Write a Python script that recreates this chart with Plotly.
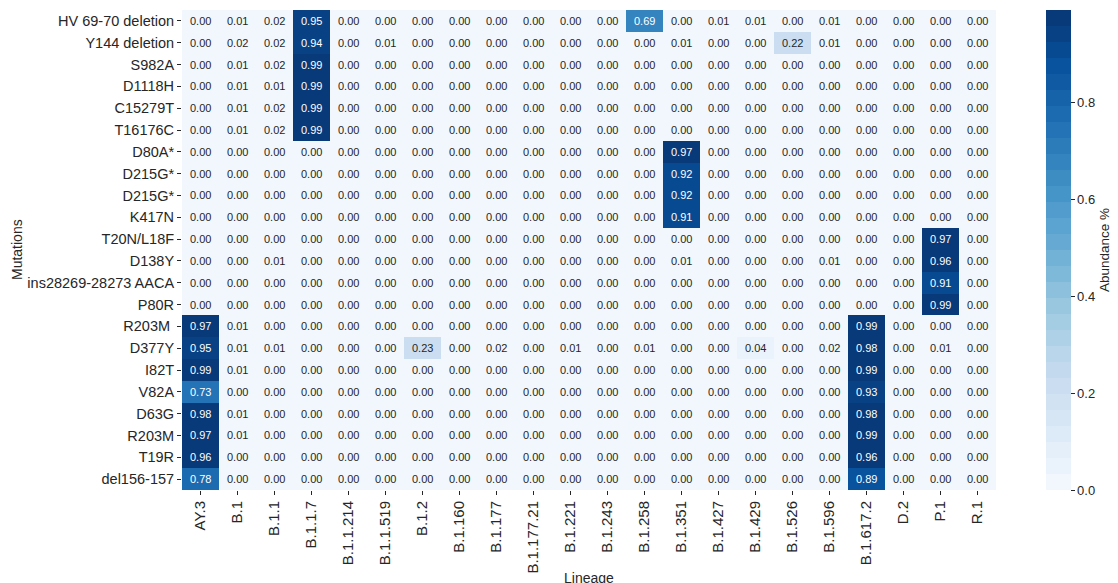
import plotly.graph_objects as go

lineages = ["AY.3", "B.1", "B.1.1", "B.1.1.7", "B.1.1.214", "B.1.1.519", "B.1.2", "B.1.160",
            "B.1.177", "B.1.177.21", "B.1.221", "B.1.243", "B.1.258", "B.1.351", "B.1.427",
            "B.1.429", "B.1.526", "B.1.596", "B.1.617.2", "D.2", "P.1", "R.1"]

mutations = ["HV 69-70 deletion", "Y144 deletion", "S982A", "D1118H", "C15279T", "T16176C",
             "D80A*", "D215G*", "D215G*", "K417N", "T20N/L18F", "D138Y", "ins28269-28273 AACA",
             "P80R", "R203M ", "D377Y", "I82T", "V82A", "D63G", "R203M", "T19R", "del156-157"]

abundance = [
    [0.00, 0.01, 0.02, 0.95, 0.00, 0.00, 0.00, 0.00, 0.00, 0.00, 0.00, 0.00, 0.69, 0.00, 0.01, 0.01, 0.00, 0.01, 0.00, 0.00, 0.00, 0.00],
    [0.00, 0.02, 0.02, 0.94, 0.00, 0.01, 0.00, 0.00, 0.00, 0.00, 0.00, 0.00, 0.00, 0.01, 0.00, 0.00, 0.22, 0.01, 0.00, 0.00, 0.00, 0.00],
    [0.00, 0.01, 0.02, 0.99, 0.00, 0.00, 0.00, 0.00, 0.00, 0.00, 0.00, 0.00, 0.00, 0.00, 0.00, 0.00, 0.00, 0.00, 0.00, 0.00, 0.00, 0.00],
    [0.00, 0.01, 0.01, 0.99, 0.00, 0.00, 0.00, 0.00, 0.00, 0.00, 0.00, 0.00, 0.00, 0.00, 0.00, 0.00, 0.00, 0.00, 0.00, 0.00, 0.00, 0.00],
    [0.00, 0.01, 0.02, 0.99, 0.00, 0.00, 0.00, 0.00, 0.00, 0.00, 0.00, 0.00, 0.00, 0.00, 0.00, 0.00, 0.00, 0.00, 0.00, 0.00, 0.00, 0.00],
    [0.00, 0.01, 0.02, 0.99, 0.00, 0.00, 0.00, 0.00, 0.00, 0.00, 0.00, 0.00, 0.00, 0.00, 0.00, 0.00, 0.00, 0.00, 0.00, 0.00, 0.00, 0.00],
    [0.00, 0.00, 0.00, 0.00, 0.00, 0.00, 0.00, 0.00, 0.00, 0.00, 0.00, 0.00, 0.00, 0.97, 0.00, 0.00, 0.00, 0.00, 0.00, 0.00, 0.00, 0.00],
    [0.00, 0.00, 0.00, 0.00, 0.00, 0.00, 0.00, 0.00, 0.00, 0.00, 0.00, 0.00, 0.00, 0.92, 0.00, 0.00, 0.00, 0.00, 0.00, 0.00, 0.00, 0.00],
    [0.00, 0.00, 0.00, 0.00, 0.00, 0.00, 0.00, 0.00, 0.00, 0.00, 0.00, 0.00, 0.00, 0.92, 0.00, 0.00, 0.00, 0.00, 0.00, 0.00, 0.00, 0.00],
    [0.00, 0.00, 0.00, 0.00, 0.00, 0.00, 0.00, 0.00, 0.00, 0.00, 0.00, 0.00, 0.00, 0.91, 0.00, 0.00, 0.00, 0.00, 0.00, 0.00, 0.00, 0.00],
    [0.00, 0.00, 0.00, 0.00, 0.00, 0.00, 0.00, 0.00, 0.00, 0.00, 0.00, 0.00, 0.00, 0.00, 0.00, 0.00, 0.00, 0.00, 0.00, 0.00, 0.97, 0.00],
    [0.00, 0.00, 0.01, 0.00, 0.00, 0.00, 0.00, 0.00, 0.00, 0.00, 0.00, 0.00, 0.00, 0.01, 0.00, 0.00, 0.00, 0.01, 0.00, 0.00, 0.96, 0.00],
    [0.00, 0.00, 0.00, 0.00, 0.00, 0.00, 0.00, 0.00, 0.00, 0.00, 0.00, 0.00, 0.00, 0.00, 0.00, 0.00, 0.00, 0.00, 0.00, 0.00, 0.91, 0.00],
    [0.00, 0.00, 0.00, 0.00, 0.00, 0.00, 0.00, 0.00, 0.00, 0.00, 0.00, 0.00, 0.00, 0.00, 0.00, 0.00, 0.00, 0.00, 0.00, 0.00, 0.99, 0.00],
    [0.97, 0.01, 0.00, 0.00, 0.00, 0.00, 0.00, 0.00, 0.00, 0.00, 0.00, 0.00, 0.00, 0.00, 0.00, 0.00, 0.00, 0.00, 0.99, 0.00, 0.00, 0.00],
    [0.95, 0.01, 0.01, 0.00, 0.00, 0.00, 0.23, 0.00, 0.02, 0.00, 0.01, 0.00, 0.01, 0.00, 0.00, 0.04, 0.00, 0.02, 0.98, 0.00, 0.01, 0.00],
    [0.99, 0.01, 0.00, 0.00, 0.00, 0.00, 0.00, 0.00, 0.00, 0.00, 0.00, 0.00, 0.00, 0.00, 0.00, 0.00, 0.00, 0.00, 0.99, 0.00, 0.00, 0.00],
    [0.73, 0.00, 0.00, 0.00, 0.00, 0.00, 0.00, 0.00, 0.00, 0.00, 0.00, 0.00, 0.00, 0.00, 0.00, 0.00, 0.00, 0.00, 0.93, 0.00, 0.00, 0.00],
    [0.98, 0.01, 0.00, 0.00, 0.00, 0.00, 0.00, 0.00, 0.00, 0.00, 0.00, 0.00, 0.00, 0.00, 0.00, 0.00, 0.00, 0.00, 0.98, 0.00, 0.00, 0.00],
    [0.97, 0.01, 0.00, 0.00, 0.00, 0.00, 0.00, 0.00, 0.00, 0.00, 0.00, 0.00, 0.00, 0.00, 0.00, 0.00, 0.00, 0.00, 0.99, 0.00, 0.00, 0.00],
    [0.96, 0.00, 0.00, 0.00, 0.00, 0.00, 0.00, 0.00, 0.00, 0.00, 0.00, 0.00, 0.00, 0.00, 0.00, 0.00, 0.00, 0.00, 0.96, 0.00, 0.00, 0.00],
    [0.78, 0.00, 0.00, 0.00, 0.00, 0.00, 0.00, 0.00, 0.00, 0.00, 0.00, 0.00, 0.00, 0.00, 0.00, 0.00, 0.00, 0.00, 0.89, 0.00, 0.00, 0.00],
]

colorbar_ticks = [0.0, 0.2, 0.4, 0.6, 0.8]

# ---- style ----
FONT = "Liberation Sans, Arial, sans-serif"
TXT = "#262626"
ZMIN, ZMAX = 0.0, 0.99
N_BANDS = 30
BLUES = ["#f7fbff", "#deebf7", "#c6dbef", "#9ecae1", "#6baed6",
         "#4292c6", "#2171b5", "#08519c", "#08306b"]


def hex2rgb(h):
    h = h.lstrip("#")
    return tuple(int(h[i:i + 2], 16) for i in (0, 2, 4))


def blues(t):
    t = min(max(t, 0.0), 1.0)
    pos = t * (len(BLUES) - 1)
    i = min(int(pos), len(BLUES) - 2)
    f = pos - i
    a, b = hex2rgb(BLUES[i]), hex2rgb(BLUES[i + 1])
    return tuple(a[k] + (b[k] - a[k]) * f for k in range(3))


# discrete palette (like seaborn color_palette("Blues", N))
palette = [blues((i + 1) / (N_BANDS + 1)) for i in range(N_BANDS)]
colorscale = []
for i, c in enumerate(palette):
    cs = "rgb(%d,%d,%d)" % tuple(round(v) for v in c)
    colorscale.append([i / N_BANDS, cs])
    colorscale.append([(i + 1) / N_BANDS, cs])


def band_color(v):
    i = int((v - ZMIN) / (ZMAX - ZMIN) * N_BANDS)
    i = min(max(i, 0), N_BANDS - 1)
    return palette[i]


def rel_lum(rgb):
    out = []
    for c in rgb:
        c = c / 255.0
        out.append(c / 12.92 if c <= 0.03928 else ((c + 0.055) / 1.055) ** 2.4)
    return 0.2126 * out[0] + 0.7152 * out[1] + 0.0722 * out[2]


y_idx = list(range(len(mutations)))

fig = go.Figure(go.Heatmap(
    z=abundance,
    x=lineages,
    y=y_idx,
    zmin=ZMIN, zmax=ZMAX,
    colorscale=colorscale,
    hoverongaps=False,
    colorbar=dict(
        x=1.0614, xanchor="left", xref="paper", xpad=0,
        y=0.5, yanchor="middle", len=1.0, lenmode="fraction", ypad=0,
        thickness=25, outlinewidth=0,
        tickvals=colorbar_ticks, ticktext=["%.1f" % t for t in colorbar_ticks],
        ticks="outside", ticklen=4, tickwidth=1, tickcolor=TXT,
        tickfont=dict(family=FONT, size=13, color=TXT),
        title=dict(text="Abundance %", side="right",
                   font=dict(family=FONT, size=13.5, color=TXT)),
    ),
))

annotations = []
for r, row in enumerate(abundance):
    for c, v in enumerate(row):
        col = "white" if rel_lum(band_color(v)) <= 0.408 else TXT
        annotations.append(dict(
            x=lineages[c], y=r, xref="x", yref="y", text="%.2f" % v,
            showarrow=False, font=dict(family=FONT, size=11, color=col)))

annotations.append(dict(text="Mutations", xref="paper", yref="paper",
                        x=-0.2027, y=0.5, xanchor="center", yanchor="middle",
                        textangle=-90, showarrow=False,
                        font=dict(family=FONT, size=14, color=TXT)))
annotations.append(dict(text="Lineage", xref="paper", yref="paper",
                        x=0.5, y=-0.1625, xanchor="center", yanchor="top",
                        showarrow=False,
                        font=dict(family=FONT, size=14, color=TXT)))

fig.update_layout(
    width=1118, height=583,
    margin=dict(l=182, r=122, t=10, b=93, autoexpand=False),
    paper_bgcolor="white", plot_bgcolor="white",
    annotations=annotations,
    xaxis=dict(type="category", tickangle=-90, ticks="outside", ticklen=4,
               tickcolor=TXT, tickfont=dict(family=FONT, size=15, color=TXT),
               showgrid=False, zeroline=False, showline=False, automargin=False),
    yaxis=dict(tickmode="array", tickvals=y_idx, ticktext=mutations,
               autorange="reversed", ticks="outside", ticklen=4, tickcolor=TXT,
               tickfont=dict(family=FONT, size=14.5, color=TXT),
               showgrid=False, zeroline=False, showline=False, automargin=False),
)

fig.write_html("out.html")
